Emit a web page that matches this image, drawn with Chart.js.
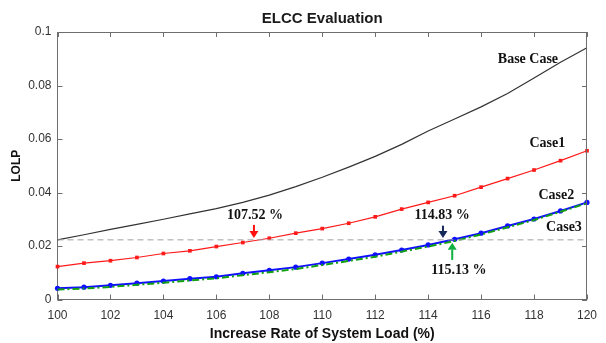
<!DOCTYPE html>
<html><head><meta charset="utf-8">
<script src="https://cdn.jsdelivr.net/npm/chart.js@4.4.1/dist/chart.umd.min.js"></script>
<style>html,body{margin:0;padding:0;background:#fff;}</style>
</head><body>
<canvas id="c" width="606" height="343"></canvas>
<script>
// ---- data ----
const loads    = [100,101,102,103,104,105,106,107,108,109,110,111,112,113,114,115,116,117,118,119,120];
const baseCase = [0.0223,0.0242,0.0262,0.0281,0.0300,0.0320,0.0340,0.0363,0.0390,0.0422,0.0457,0.0495,0.0535,0.0580,0.0630,0.0675,0.0720,0.0770,0.0828,0.0887,0.0941];
const case1    = [0.0123,0.0136,0.0145,0.0157,0.0172,0.0182,0.0198,0.0213,0.0229,0.0248,0.0265,0.0285,0.0309,0.0338,0.0363,0.0388,0.0420,0.0452,0.0484,0.0519,0.0556];
const case2    = [0.0042,0.0046,0.0053,0.0061,0.0069,0.0078,0.0085,0.0098,0.0109,0.0121,0.0136,0.0151,0.0167,0.0185,0.0204,0.0225,0.0248,0.0275,0.0301,0.0331,0.0363];
const case3    = [0.0037,0.0041,0.0047,0.0055,0.0063,0.0071,0.0079,0.0091,0.0102,0.0114,0.0129,0.0144,0.0160,0.0179,0.0198,0.0219,0.0243,0.0270,0.0297,0.0328,0.0360];
const thresholdLOLP = 0.0223;
const thresholdLine = loads.map(() => thresholdLOLP);
const seriesNames = ['Base Case','Case1','Case2','Case3'];
const crossingLabels = ['107.52 %','114.83 %','115.13 %'];
const xTickValues = [100,102,104,106,108,110,112,114,116,118,120];
const yTickValues = [0,0.02,0.04,0.06,0.08,0.1];

// ---- annotation placement (data coordinates) ----
const seriesLabelPos = [
  {x:117.77, y:0.0897},
  {x:118.5,  y:0.0582},
  {x:118.84, y:0.0391},
  {x:119.13, y:0.0268}
];
const crossingLabelPos = [
  {x:107.46, y:0.0316},
  {x:114.53, y:0.0313},
  {x:115.16, y:0.0107}
];
const arrowSpecs = [
  {x:107.42, from:0.0279, to:0.0230, color:'#ff1010'},
  {x:114.56, from:0.0276, to:0.0230, color:'#14285a'},
  {x:114.91, from:0.0148, to:0.0212, color:'#10b040'}
];

const pts = arr => loads.map((x,i) => ({x, y: arr[i]}));

const SANS = '"Liberation Sans", Arial, Helvetica, sans-serif';
const SERIF = '"Liberation Serif", "Times New Roman", serif';
Chart.defaults.font.family = SANS;

const decor = {
  id: 'decor',
  afterDraw(chart) {
    const {ctx, chartArea: a, scales: {x, y}} = chart;
    ctx.save();
    // box top/right
    ctx.strokeStyle = '#6e6e6e';
    ctx.lineWidth = 1;
    ctx.beginPath();
    ctx.moveTo(a.left, a.top + 0.5); ctx.lineTo(a.right, a.top + 0.5);
    ctx.moveTo(a.right - 0.5, a.top); ctx.lineTo(a.right - 0.5, a.bottom);
    ctx.stroke();
    // inward ticks
    const tl = 5;
    ctx.beginPath();
    xTickValues.forEach(v => {
      const px = Math.round(x.getPixelForValue(v)) + 0.5;
      ctx.moveTo(px, a.bottom); ctx.lineTo(px, a.bottom - tl);
      ctx.moveTo(px, a.top); ctx.lineTo(px, a.top + tl);
    });
    yTickValues.forEach(v => {
      const py = Math.round(y.getPixelForValue(v)) + 0.5;
      ctx.moveTo(a.left, py); ctx.lineTo(a.left + tl, py);
      ctx.moveTo(a.right, py); ctx.lineTo(a.right - tl, py);
    });
    ctx.stroke();
    // title
    ctx.fillStyle = '#1a1a1a';
    ctx.font = 'bold 15px ' + SANS;
    ctx.textAlign = 'center';
    ctx.textBaseline = 'middle';
    ctx.fillText('ELCC Evaluation', (a.left + a.right) / 2, 19);
    // series labels
    ctx.font = 'bold 14px ' + SERIF;
    ctx.fillStyle = '#111';
    seriesNames.forEach((t, i) => {
      ctx.fillText(t, x.getPixelForValue(seriesLabelPos[i].x), y.getPixelForValue(seriesLabelPos[i].y));
    });
    crossingLabels.forEach((t, i) => {
      ctx.fillText(t, x.getPixelForValue(crossingLabelPos[i].x), y.getPixelForValue(crossingLabelPos[i].y));
    });
    // arrows
    arrowSpecs.forEach(s => {
      const px = x.getPixelForValue(s.x);
      const y0 = y.getPixelForValue(s.from);
      const y1 = y.getPixelForValue(s.to);
      const dir = y1 > y0 ? 1 : -1;
      const head = 7;
      ctx.strokeStyle = s.color;
      ctx.fillStyle = s.color;
      ctx.lineWidth = 2;
      ctx.beginPath();
      ctx.moveTo(px, y0); ctx.lineTo(px, y1 - dir * head);
      ctx.stroke();
      ctx.beginPath();
      ctx.moveTo(px - 4.5, y1 - dir * head);
      ctx.lineTo(px + 4.5, y1 - dir * head);
      ctx.lineTo(px, y1);
      ctx.closePath();
      ctx.fill();
    });
    ctx.restore();
  }
};

new Chart(document.getElementById('c'), {
  type: 'line',
  data: {
    datasets: [
      {label: 'threshold', data: pts(thresholdLine), borderColor: '#a0a0a0', borderWidth: 1, borderDash: [6, 4], pointRadius: 0},
      {label: seriesNames[0], data: pts(baseCase), borderColor: '#333333', borderWidth: 1.2, pointRadius: 0, clip: false},
      {label: seriesNames[1], data: pts(case1), borderColor: '#ff1a1a', backgroundColor: '#ff1a1a', borderWidth: 1.2, pointStyle: 'rect', pointRadius: 2.6, pointBorderWidth: 0, clip: false},
      {label: seriesNames[3], data: pts(case3), borderColor: '#12a012', borderWidth: 2, borderDash: [7, 3, 2, 3], pointRadius: 0, clip: false},
      {label: seriesNames[2], data: pts(case2), borderColor: '#1010ff', backgroundColor: '#1010ff', borderWidth: 2, pointStyle: 'circle', pointRadius: 2.6, pointBorderWidth: 0, clip: false}
    ]
  },
  options: {
    responsive: false,
    animation: false,
    devicePixelRatio: 1,
    layout: {padding: {top: 32, right: 5.5, left: 0, bottom: 0}},
    plugins: {legend: {display: false}, tooltip: {enabled: false}, title: {display: false}},
    elements: {line: {tension: 0}},
    scales: {
      x: {
        type: 'linear', min: 100, max: 120,
        afterBuildTicks: s => { s.ticks = xTickValues.map(v => ({value: v})); },
        afterFit: s => { s.height = 43.5; },
        grid: {drawOnChartArea: false, drawTicks: false},
        border: {display: true, color: '#6e6e6e', width: 1},
        ticks: {color: '#333', font: {size: 12}, padding: 9, maxRotation: 0},
        title: {display: true, text: 'Increase Rate of System Load (%)', color: '#111', font: {size: 14, weight: 'bold'}, padding: {top: 0, bottom: 0}}
      },
      y: {
        min: 0, max: 0.1,
        afterBuildTicks: s => { s.ticks = yTickValues.map(v => ({value: v})); },
        afterFit: s => { s.width = 57.5; },
        grid: {drawOnChartArea: false, drawTicks: false},
        border: {display: true, color: '#6e6e6e', width: 1},
        ticks: {color: '#333', font: {size: 12}, padding: 6, callback: v => String(+v.toFixed(2))},
        title: {display: true, text: 'LOLP', color: '#111', font: {size: 12, weight: 'bold'}, padding: {top: 9, bottom: 0}}
      }
    }
  },
  plugins: [decor]
});
</script>
</body></html>
